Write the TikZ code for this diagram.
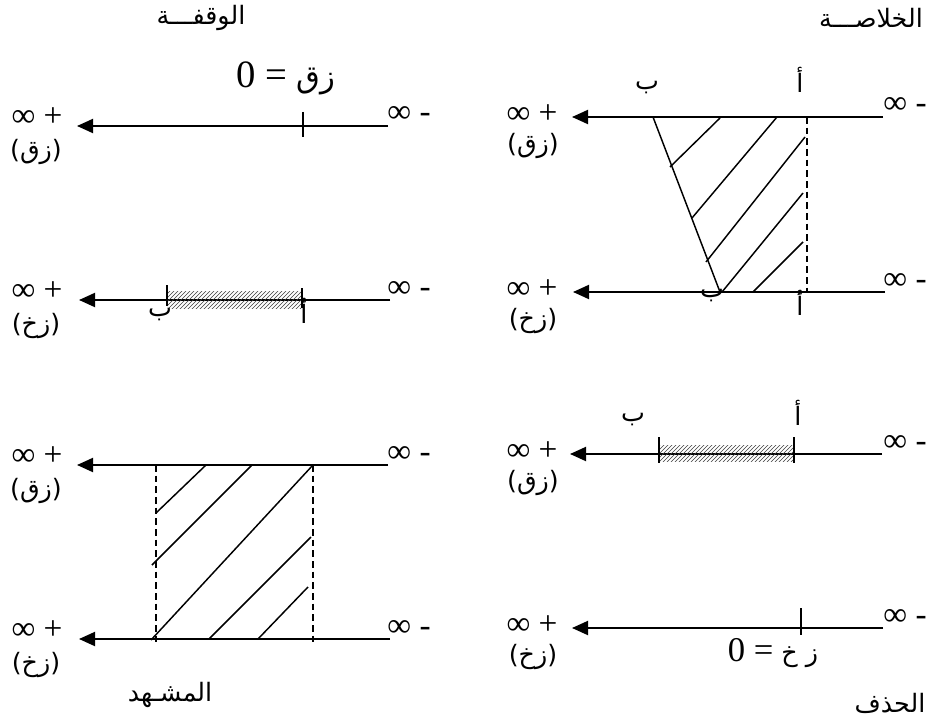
\documentclass[tikz,border=0pt]{standalone}
\usepackage{fontspec}
\newfontfamily\arabicfont[Script=Arabic]{DejaVu Sans}
\newfontfamily\timesfont{Liberation Serif}
\TeXXeTstate=1
\usetikzlibrary{arrows.meta,patterns}

\tikzset{
  axis/.style={line width=1.4pt,-{Triangle[length=12pt,width=10.5pt]}},
  tickline/.style={line width=1pt},
  hatch/.style={line width=1.1pt},
  border/.style={line width=1pt,dash pattern=on 5pt off 3pt},
  bar/.style={pattern=north east lines,pattern color=gray!50!black},
  ar/.style={font=\arabicfont\fontsize{19}{22}\selectfont,inner sep=0pt},
  inf/.style={font=\timesfont\fontsize{25}{28}\selectfont,inner sep=0pt},
}

\begin{document}
\begin{tikzpicture}[x=0.75pt,y=-0.75pt]
\useasboundingbox (0,0) rectangle (929,717);

% titles
\node[ar] (stop) at (201,18) {\beginR الوقفـــة\endR};
\node[ar] (summary) at (871,18) {\beginR الخلاصـــة\endR};
\node[ar] (scene) at (170,695) {\beginR المشـهد\endR};
\node[ar] (cut) at (890,703) {\beginR الحذف\endR};

% left column: labels of the lines
\foreach \y/\n/\v in {126/a/زق, 300/b/زخ, 465/c/زق, 639/d/زخ}{
  \node[inf] (pinf\n) at (37,\y-9) {∞ +};
  \node[ar] (var\n) at (36,\y+26) {\beginR(\v)\endR};
  \node[inf] (minf\n) at (409,\y-11) {∞ -};
}
% right column: labels of the lines
\foreach \y/\n/\v in {117/e/زق, 292/f/زخ, 454/g/زق, 628/h/زخ}{
  \node[inf] (pinf\n) at (532,\y-3) {∞ +};
  \node[ar] (var\n) at (533,\y+29) {\beginR(\v)\endR};
  \node[inf] (minf\n) at (905,\y-11) {∞ -};
}

% draw axes
\coordinate (ar) at (388,126); \coordinate (al) at (77,126);
\coordinate (br) at (390,300); \coordinate (bl) at (79,300);
\coordinate (cr) at (388,465); \coordinate (cl) at (77,465);
\coordinate (dr) at (390,639); \coordinate (dl) at (79,639);
\coordinate (er) at (883,117); \coordinate (el) at (572,117);
\coordinate (fr) at (885,292); \coordinate (fl) at (573,292);
\coordinate (gr) at (882,454); \coordinate (gl) at (570,454);
\coordinate (hr) at (883,628); \coordinate (hl) at (572,628);
\foreach \n in {a,b,c,d,e,f,g,h}
  \draw[axis] (\n r) -- (\n l);

% stop: zq = 0 and the set of zk
\draw[tickline] (303,112) -- (303,137);
\node[ar,font=\arabicfont\fontsize{23}{27}\selectfont] (zq0) at (286,78)
  {\beginR زق {\timesfont\fontsize{29}{33}\selectfont = 0}\endR};
\fill[bar] (167,291) rectangle (302,308);
\draw[tickline] (167,285) -- (167,306);
\draw[tickline] (302,288) -- (302,308);
\node[ar] (bl1) at (160,315) {\beginR ب\endR};
\node[ar] (al1) at (304,311) {\beginR أ\endR};

% summary: the trapezium
\node[ar] (bl2) at (647,88) {\beginR ب\endR};
\node[ar] (al2) at (800,80) {\beginR أ\endR};
\node[ar] (bl3) at (712,296) {\beginR ب\endR};
\node[ar] (al3) at (800,303) {\beginR أ\endR};
\draw[hatch] (653,117) -- (720,292);
\draw[border] (807,117) -- (807,292);
\draw[hatch] (670,167) -- (720,118);
\draw[hatch] (692,218) -- (777,117);
\draw[hatch] (706,262) -- (805,137);
\draw[hatch] (722,292) -- (803,193);
\draw[hatch] (753,292) -- (803,242);

% scene: the band
\draw[border] (156,465) -- (156,643);
\draw[border] (313,465) -- (313,643);
\draw[hatch] (156,513) -- (206,465);
\draw[hatch] (152,565) -- (252,465);
\draw[hatch] (151,640) -- (313,465);
\draw[hatch] (209,639) -- (311,537);
\draw[hatch] (258,639) -- (308,587);

% summary below: the set of zq
\fill[bar] (659,445) rectangle (794,461);
\draw[tickline] (659,437) -- (659,463);
\draw[tickline] (794,437) -- (794,463);
\node[ar] (bl4) at (633,420) {\beginR ب\endR};
\node[ar] (al4) at (798,413) {\beginR أ\endR};

% cut: zk = 0
\draw[tickline] (801,608) -- (801,635);
\node[ar] (zk0) at (773,653)
  {\beginR ز خ {\timesfont\fontsize{26}{30}\selectfont = 0}\endR};

\end{tikzpicture}
\end{document}
